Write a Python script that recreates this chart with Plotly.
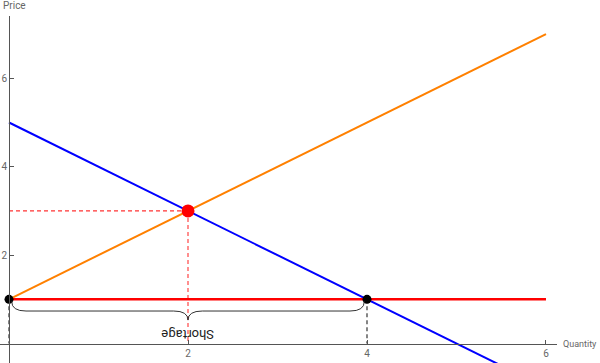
import plotly.graph_objects as go

# ---- data ----
supply_q = [0, 6]
supply_p = [1, 7]
demand_q = [0, 6]
demand_p = [5, -1]
floor_q = [0, 6]
floor_p = [1, 1]
eq_q = [2]
eq_p = [3]
qs_at_floor = 0
qd_at_floor = 4
price_floor = 1
tick_vals = [2, 4, 6]
tick_text = ["2", "4", "6"]

# ---- layout geometry ----
W, H = 600, 363
ml, mr, mt, mb = 0, 43, 16, 0
xr = [-0.1006, 6.123]
yr = [-0.441, 7.41]
xpos_axis = (0 - yr[0]) / (yr[1] - yr[0])
ypos_axis = (0 - xr[0]) / (xr[1] - xr[0])

fig = go.Figure()

# red dashed guides to equilibrium
fig.add_trace(go.Scatter(x=[0, eq_q[0]], y=[eq_p[0], eq_p[0]], mode="lines",
                         line=dict(color="#ff3333", width=1.1, dash="4px,3px"),
                         hoverinfo="skip", showlegend=False))
fig.add_trace(go.Scatter(x=[eq_q[0], eq_q[0]], y=[eq_p[0], 0], mode="lines",
                         line=dict(color="#ff3333", width=1.1, dash="4px,3px"),
                         hoverinfo="skip", showlegend=False))
# black dashed drops
for q in [qs_at_floor, qd_at_floor]:
    fig.add_trace(go.Scatter(x=[q, q], y=[price_floor, 0], mode="lines",
                             line=dict(color="#444444", width=1.3, dash="4px,3px"),
                             hoverinfo="skip", showlegend=False))

fig.add_trace(go.Scatter(x=demand_q, y=demand_p, mode="lines",
                         line=dict(color="#0000ff", width=2), showlegend=False))
fig.add_trace(go.Scatter(x=supply_q, y=supply_p, mode="lines",
                         line=dict(color="#ff8000", width=2), showlegend=False))
fig.add_trace(go.Scatter(x=floor_q, y=floor_p, mode="lines",
                         line=dict(color="#ff0000", width=2.5), showlegend=False))
fig.add_trace(go.Scatter(x=[qs_at_floor, qd_at_floor], y=[price_floor, price_floor],
                         mode="markers", marker=dict(color="black", size=9),
                         showlegend=False, cliponaxis=False))
fig.add_trace(go.Scatter(x=eq_q, y=eq_p, mode="markers",
                         marker=dict(color="#ff0000", size=13), showlegend=False))

# brace under the shortage
x0, x1 = qs_at_floor + 0.03, qd_at_floor - 0.03
xm = (qs_at_floor + qd_at_floor) / 2
y0 = price_floor - 0.05
yh = price_floor - 0.265
yt = price_floor - 0.47
r = 0.16
path = (f"M {x0},{y0} Q {x0},{yh} {x0 + r},{yh} L {xm - r},{yh} "
        f"Q {xm},{yh} {xm},{yt} Q {xm},{yh} {xm + r},{yh} L {x1 - r},{yh} "
        f"Q {x1},{yh} {x1},{y0}")
fig.add_shape(type="path", path=path, xref="x", yref="y",
              line=dict(color="#333333", width=1))

fig.add_annotation(x=xm, y=price_floor - 0.8, xref="x", yref="y", text="Shortage",
                   showarrow=False, textangle=180,
                   font=dict(family="Roboto", size=13, color="#222222"))

fig.add_annotation(x=1 / 557, y=1 + (16 - 5) / 347, xref="paper", yref="paper",
                   text="Price", showarrow=False, xanchor="left", yanchor="middle",
                   font=dict(family="Roboto", size=10, color="#666666"))
fig.add_annotation(x=599 / 557, y=(363 - 344) / 347, xref="paper", yref="paper",
                   text="Quantity", showarrow=False, xanchor="right", yanchor="middle",
                   font=dict(family="Roboto", size=9, color="#666666"))

axis_common = dict(showgrid=False, zeroline=False, showline=True, linecolor="#555555",
                   linewidth=1, ticks="inside", ticklen=4, tickcolor="#555555",
                   tickvals=tick_vals, ticktext=tick_text,
                   tickfont=dict(family="Roboto", size=10, color="#666666"),
                   fixedrange=True)

fig.update_layout(
    width=W, height=H,
    margin=dict(l=ml, r=mr, t=mt, b=mb, pad=0),
    paper_bgcolor="white", plot_bgcolor="white",
    xaxis=dict(range=xr, anchor="free", position=xpos_axis, **axis_common),
    yaxis=dict(range=yr, anchor="free", position=ypos_axis, **axis_common),
)

fig.write_html("out.html", config={"displayModeBar": False},
               post_script="document.body.style.margin='0';document.body.style.overflow='hidden';")
